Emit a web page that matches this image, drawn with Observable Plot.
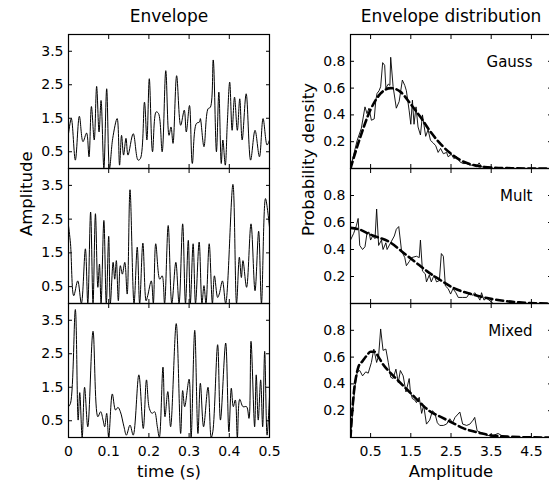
<!DOCTYPE html>
<html><head><meta charset="utf-8">
<script src="https://cdn.jsdelivr.net/npm/d3@7"></script>
<script src="https://cdn.jsdelivr.net/npm/@observablehq/plot@0.6"></script>
<style>
html,body{margin:0;padding:0;background:#fff;overflow:hidden;}
#chart{position:relative;width:549px;height:481px;overflow:hidden;background:#fff;}
#chart svg{position:absolute;left:0;top:0;max-width:none;background:transparent;overflow:visible;}
</style></head><body><div id="chart"></div>
<script>
// tick values
const timeTicks = [0, 0.1, 0.2, 0.3, 0.4, 0.5];
const envTicks = [0.5, 1.5, 2.5, 3.5];
const ampTicks = [0.5, 1.5, 2.5, 3.5, 4.5];
const densTicks = [0.2, 0.4, 0.6, 0.8];
const panelNames = ["Gauss", "Mult", "Mixed"];

// envelope time series [time (s), amplitude]
const env1 = [[0,1.04],[0.007,1.49],[0.017,0.25],[0.027,1.56],[0.036,0.80],[0.045,1.06],[0.051,0.35],[0.057,1.85],[0.064,0.85],[0.070,2.45],[0.076,1.09],[0.081,2.03],[0.088,0.00],[0.095,2.38],[0.102,0.00],[0.110,0.90],[0.121,1.49],[0.127,0.10],[0.132,0.99],[0.137,0.40],[0.143,0.90],[0.148,0.40],[0.161,1.04],[0.173,0.25],[0.179,0.30],[0.189,1.98],[0.195,0.85],[0.201,2.68],[0.209,0.50],[0.218,1.69],[0.224,1.64],[0.233,0.50],[0.242,2.92],[0.250,0.99],[0.255,1.24],[0.260,0.75],[0.269,2.77],[0.279,1.29],[0.288,1.74],[0.293,1.09],[0.301,1.88],[0.308,0.15],[0.318,1.34],[0.326,1.39],[0.328,1.49],[0.337,0.65],[0.347,1.78],[0.353,1.83],[0.360,3.24],[0.368,0.50],[0.374,2.28],[0.380,0.15],[0.384,0.85],[0.390,0.10],[0.395,1.34],[0.401,2.58],[0.407,1.14],[0.413,2.13],[0.420,1.14],[0.426,2.08],[0.432,0.85],[0.442,2.23],[0.453,0.25],[0.464,1.14],[0.475,0.35],[0.484,1.49],[0.494,0.70],[0.500,0.85]];
const env2 = [[0,2.31],[0.005,1.77],[0.013,0.23],[0.023,0.67],[0.032,0],[0.042,1.62],[0.048,0],[0.055,2.71],[0.061,0],[0.067,2.66],[0.073,0.48],[0.077,1.17],[0.081,0],[0.088,2.46],[0.094,0],[0.100,1.99],[0.104,0],[0.111,1.22],[0.115,0.72],[0.119,1.27],[0.124,0.08],[0.129,1.12],[0.134,0.87],[0.140,1.22],[0.146,0.28],[0.153,3.37],[0.163,0],[0.171,1.67],[0.177,0],[0.185,1.79],[0.193,0.08],[0.197,0.23],[0.206,0.67],[0.211,0],[0.217,1.77],[0.227,0.72],[0.233,0.82],[0.239,0],[0.248,2.31],[0.257,0],[0.267,1.22],[0.275,0],[0.284,2.36],[0.291,0],[0.298,1.87],[0.303,0],[0.310,1.77],[0.316,0],[0.325,1.82],[0.332,0],[0.337,0.53],[0.342,0],[0.350,1.77],[0.358,0],[0.363,0.82],[0.371,0.18],[0.375,0.28],[0.383,0.67],[0.391,0],[0.409,3.53],[0.418,0],[0.425,1.37],[0.430,0.77],[0.434,1.27],[0.443,0.48],[0.454,2.36],[0.464,0.38],[0.473,2.14],[0.480,0],[0.490,3.11],[0.500,2.26]];
const env3 = [[0,0.92],[0.005,1.02],[0.017,3.82],[0.024,0.52],[0.028,1.34],[0.034,0],[0.040,1.50],[0.048,0.32],[0.061,3.17],[0.073,0.62],[0.080,0.77],[0.086,0.52],[0.090,0.32],[0.095,0.72],[0.100,0],[0.109,1.30],[0.117,0.82],[0.123,0.90],[0.129,0.77],[0.138,0.32],[0.144,0.07],[0.153,0.37],[0.161,0.07],[0.175,1.87],[0.186,0.27],[0.194,1.72],[0.201,0.87],[0.208,0.72],[0.214,0.77],[0.221,0.32],[0.226,0],[0.235,2.10],[0.240,0.62],[0.247,1.37],[0.254,0.32],[0.268,3.40],[0.279,0.12],[0.284,1.40],[0.289,0.92],[0.300,1.74],[0.305,0],[0.314,3.20],[0.322,0.12],[0.328,1.62],[0.336,0.32],[0.347,1.50],[0.355,0],[0.359,0.17],[0.371,2.77],[0.378,0.52],[0.391,2.82],[0.399,0.17],[0.405,1.47],[0.410,0.92],[0.415,1.12],[0.420,0],[0.426,1.14],[0.434,0.92],[0.443,0.92],[0.449,0.57],[0.454,2.87],[0.463,0.32],[0.467,1.87],[0.472,0.52],[0.478,1.72],[0.483,0.32],[0.488,2.57],[0.494,0.07],[0.500,1.22]];

// empirical densities [amplitude, density]
const gaussEmp = [[0,0],[0.066,0.087],[0.166,0.21],[0.27,0.30],[0.36,0.46],[0.41,0.41],[0.46,0.45],[0.52,0.36],[0.59,0.37],[0.63,0.51],[0.66,0.56],[0.71,0.58],[0.75,0.61],[0.80,0.79],[0.85,0.77],[0.88,0.60],[0.94,0.63],[0.98,0.62],[1.00,0.83],[1.06,0.61],[1.14,0.45],[1.21,0.50],[1.29,0.66],[1.35,0.62],[1.39,0.58],[1.46,0.43],[1.50,0.33],[1.54,0.51],[1.58,0.33],[1.63,0.46],[1.68,0.31],[1.74,0.25],[1.79,0.40],[1.83,0.32],[1.87,0.24],[1.93,0.29],[1.99,0.21],[2.06,0.19],[2.12,0.17],[2.18,0.12],[2.24,0.15],[2.31,0.11],[2.39,0.12],[2.43,0.087],[2.51,0.107],[2.57,0.074],[2.64,0.087],[2.72,0.05],[2.80,0.037],[2.89,0.037],[2.97,0.025],[3.05,0.025],[3.13,0.012],[3.20,0.042],[3.26,0.012],[3.38,0.012],[3.55,0]];
const multEmp = [[0,0.47],[0.08,0.52],[0.15,0.58],[0.19,0.63],[0.23,0.43],[0.30,0.40],[0.36,0.42],[0.41,0.52],[0.46,0.53],[0.50,0.47],[0.55,0.50],[0.61,0.48],[0.65,0.70],[0.70,0.43],[0.77,0.47],[0.81,0.40],[0.88,0.45],[0.91,0.40],[0.98,0.44],[1.09,0.50],[1.14,0.55],[1.20,0.57],[1.27,0.39],[1.35,0.34],[1.39,0.28],[1.46,0.31],[1.52,0.34],[1.64,0.35],[1.71,0.34],[1.74,0.47],[1.79,0.24],[1.86,0.22],[1.89,0.16],[1.96,0.21],[2.01,0.16],[2.08,0.21],[2.14,0.16],[2.21,0.17],[2.26,0.37],[2.31,0.35],[2.36,0.13],[2.43,0.11],[2.49,0.07],[2.55,0.11],[2.62,0.08],[2.68,0.045],[2.79,0.045],[2.89,0.045],[2.97,0.08],[3.03,0.06],[3.09,0.08],[3.18,0.045],[3.22,0.025],[3.26,0.08],[3.32,0.025],[3.38,0.04],[3.47,0.02],[3.55,0]];
const mixedEmp = [[0,0],[0.05,0.18],[0.11,0.38],[0.17,0.49],[0.23,0.50],[0.30,0.46],[0.38,0.49],[0.44,0.48],[0.52,0.56],[0.58,0.66],[0.65,0.56],[0.70,0.61],[0.75,0.81],[0.81,0.65],[0.88,0.66],[0.94,0.56],[1.00,0.45],[1.06,0.44],[1.13,0.51],[1.19,0.41],[1.24,0.50],[1.31,0.46],[1.38,0.34],[1.46,0.44],[1.49,0.34],[1.54,0.29],[1.60,0.28],[1.64,0.26],[1.71,0.30],[1.77,0.18],[1.82,0.24],[1.89,0.10],[1.97,0.13],[2.04,0.20],[2.10,0.18],[2.16,0.11],[2.22,0.09],[2.31,0.09],[2.39,0.10],[2.47,0.14],[2.54,0.11],[2.60,0.15],[2.72,0.19],[2.79,0.10],[2.89,0.09],[2.97,0.10],[3.05,0.13],[3.09,0.15],[3.15,0.05],[3.22,0.04],[3.30,0.03],[3.42,0.015],[3.55,0.015],[3.67,0.03],[3.76,0.015],[3.88,0]];

// model densities [amplitude, density]
const gaussFit = [[0,0],[0.25,0.24],[0.5,0.44],[0.75,0.56],[1.0,0.60],[1.25,0.57],[1.5,0.48],[1.75,0.38],[2.0,0.27],[2.25,0.18],[2.5,0.11],[2.75,0.06],[3.0,0.03],[3.25,0.015],[3.5,0.007],[4.0,0.002],[4.5,0],[5.0,0]];
const multFit = [[0,0.56],[0.2,0.55],[0.5,0.51],[1.0,0.45],[1.3,0.38],[1.6,0.31],[1.9,0.24],[2.2,0.18],[2.6,0.11],[3.0,0.07],[3.4,0.04],[3.8,0.02],[4.2,0.008],[4.6,0.002],[5.0,0]];
const mixedFit = [[0,0],[0.05,0.22],[0.1,0.38],[0.15,0.47],[0.2,0.53],[0.3,0.57],[0.4,0.61],[0.5,0.64],[0.6,0.64],[0.7,0.60],[0.8,0.55],[1.0,0.48],[1.2,0.42],[1.4,0.36],[1.6,0.30],[1.8,0.24],[2.0,0.19],[2.2,0.16],[2.4,0.13],[2.6,0.10],[2.8,0.07],[3.0,0.05],[3.2,0.035],[3.5,0.015],[4.0,0.005],[4.5,0.001],[5.0,0]];

const W = 552, H = 481;
const rows = [[34, 168], [168, 303], [303, 437]];
const leftCol = [68, 269], rightCol = [350, 551];
const FONT = "DejaVu Sans";

function panel({col, row, xDomain, yDomain, xTicks, yTicks, showX, marks}) {
  const [l, r] = col, [t, b] = row;
  return Plot.plot({
    width: W, height: H,
    marginLeft: l, marginRight: W - r, marginTop: t, marginBottom: H - b,
    style: {fontFamily: FONT, fontSize: "14px", background: "transparent", overflow: "visible", color: "black"},
    x: {domain: xDomain},
    y: {domain: yDomain},
    marks: [
      ...marks,
      Plot.axisX(xTicks, {anchor: "bottom", tickSize: -4, tickPadding: 12.8, tickFormat: showX ? d => String(d) : () => "", label: null}),
      Plot.axisX(xTicks, {anchor: "top", tickSize: -4, tickFormat: () => "", label: null}),
      Plot.axisY(yTicks, {anchor: "left", tickSize: -4, tickPadding: 9, tickFormat: d => String(d), label: null}),
      Plot.axisY(yTicks, {anchor: "right", tickSize: -4, tickFormat: () => "", label: null}),
      Plot.frame({stroke: "black", strokeWidth: 1.2})
    ]
  });
}

const chart = document.getElementById("chart");
const envData = [env1, env2, env3];
const empData = [gaussEmp, multEmp, mixedEmp];
const fitData = [gaussFit, multFit, mixedFit];

for (let i = 0; i < 3; i++) {
  const extraL = [];
  if (i === 0) extraL.push(Plot.text(["Envelope"], {text: d => d, frameAnchor: "top", dy: -12.5, lineAnchor: "bottom", fontSize: 17}));
  if (i === 1) extraL.push(Plot.text(["Amplitude"], {text: d => d, frameAnchor: "left", dx: -36.5, rotate: -90, lineAnchor: "bottom", fontSize: 16.5}));
  if (i === 2) extraL.push(Plot.text(["time (s)"], {text: d => d, frameAnchor: "bottom", dy: 39.5, lineAnchor: "bottom", fontSize: 16.5}));
  chart.append(panel({
    col: leftCol, row: rows[i], xDomain: [0, 0.5], yDomain: [0, 4],
    xTicks: timeTicks, yTicks: envTicks, showX: i === 2,
    marks: [
      Plot.line(envData[i], {x: d => d[0], y: d => d[1], curve: "catmull-rom", stroke: "black", strokeWidth: 1, clip: true}),
      ...extraL
    ]
  }));

  const extraR = [
    Plot.text([panelNames[i]], {text: d => d, frameAnchor: "top-right", dx: -19, dy: 28, lineAnchor: "middle", textAnchor: "end", fontSize: 15})
  ];
  if (i === 0) extraR.push(Plot.text(["Envelope distribution"], {text: d => d, frameAnchor: "top", dy: -12.5, lineAnchor: "bottom", fontSize: 17}));
  if (i === 1) extraR.push(Plot.text(["Probability density"], {text: d => d, frameAnchor: "left", dx: -36.7, rotate: -90, lineAnchor: "bottom", fontSize: 16.5}));
  if (i === 2) extraR.push(Plot.text(["Amplitude"], {text: d => d, frameAnchor: "bottom", dy: 39.5, lineAnchor: "bottom", fontSize: 16.5}));
  chart.append(panel({
    col: rightCol, row: rows[i], xDomain: [0, 5], yDomain: [0, 1],
    xTicks: ampTicks, yTicks: densTicks, showX: i === 2,
    marks: [
      Plot.line(fitData[i], {x: d => d[0], y: d => d[1], curve: "monotone-x", stroke: "black", strokeWidth: 2.6, strokeDasharray: "7,4", clip: true}),
      Plot.line(empData[i], {x: d => d[0], y: d => d[1], stroke: "black", strokeWidth: 0.9, clip: true}),
      ...extraR
    ]
  }));
}
</script></body></html>
